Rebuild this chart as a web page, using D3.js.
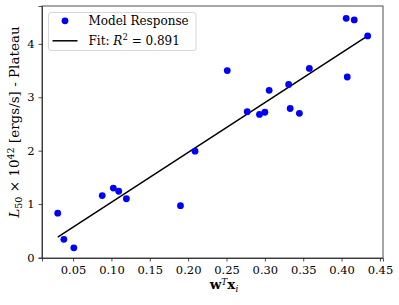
<!DOCTYPE html>
<html>
<head>
<meta charset="utf-8">
<script src="https://cdn.jsdelivr.net/npm/d3@7"></script>
<style>
  body { margin: 0; background: #fff; }
  .axis path, .axis line { stroke: #222; stroke-width: 0.8; }
</style>
</head>
<body>
<svg id="chart" width="399" height="305"></svg>
<script>
// model response points: w^T x_i vs L50 (x 10^42 erg/s)
var xVals = [0.030, 0.038, 0.051, 0.088, 0.1025, 0.1095, 0.1195, 0.190, 0.209,
             0.251, 0.277, 0.293, 0.300, 0.3056, 0.331, 0.333, 0.345, 0.358,
             0.406, 0.4165, 0.4074, 0.434];
var yVals = [0.83, 0.34, 0.18, 1.16, 1.30, 1.24, 1.10, 0.97, 1.99,
             3.50, 2.73, 2.68, 2.72, 3.13, 3.24, 2.79, 2.70, 3.54,
             4.48, 4.45, 3.38, 4.15];
// fitted line endpoints
var fitX = [0.030, 0.434];
var fitY = [0.38, 4.15];
var xTicks = [0.05, 0.10, 0.15, 0.20, 0.25, 0.30, 0.35, 0.40, 0.45];
var yTicks = [0, 1, 2, 3, 4];
var legendLabels = ["Model Response", "Fit: R\u00b2 = 0.891"];

var serif = "'DejaVu Serif', serif";

var svg = d3.select("#chart"),
    margin = {top: 6, right: 16, bottom: 47, left: 42},
    width = 399 - margin.left - margin.right,
    height = 305 - margin.top - margin.bottom,
    g = svg.append("g").attr("transform", "translate(" + margin.left + "," + margin.top + ")");

var x = d3.scaleLinear().domain([0.0095, 0.454]).range([0, width]),
    y = d3.scaleLinear().domain([-0.01, 4.71]).range([height, 0]);

g.append("g")
    .attr("class", "axis")
    .attr("transform", "translate(0," + height + ")")
    .call(d3.axisBottom(x).tickValues(xTicks).tickFormat(d3.format(".2f")).tickSizeOuter(0).tickSize(3.5).tickPadding(4));

g.append("g")
    .attr("class", "axis")
    .call(d3.axisLeft(y).tickValues(yTicks).tickFormat(d3.format("d")).tickSizeOuter(0).tickSize(3.5).tickPadding(4));

g.selectAll(".axis text")
    .style("font-family", serif)
    .style("font-size", "11.5px")
    .attr("fill", "#000");

// frame
g.append("rect")
    .attr("width", width).attr("height", height)
    .attr("fill", "none").attr("stroke", "#222").attr("stroke-width", 0.8);

var pts = xVals.map(function(v, i) { return {x: v, y: yVals[i]}; });

var line = d3.line()
    .x(function(d) { return x(d[0]); })
    .y(function(d) { return y(d[1]); });

g.append("path")
    .attr("d", line(fitX.map(function(v, i) { return [v, fitY[i]]; })))
    .attr("fill", "none").attr("stroke", "#000").attr("stroke-width", 1.5);

g.selectAll(".dot")
    .data(pts)
  .enter().append("circle")
    .attr("class", "dot")
    .attr("cx", function(d) { return x(d.x); })
    .attr("cy", function(d) { return y(d.y); })
    .attr("r", 3.4)
    .attr("fill", "#0000ff");

// legend
var lg = svg.append("g").attr("transform", "translate(48.5,12.5)");
lg.append("rect")
    .attr("width", 147.5).attr("height", 38)
    .attr("rx", 2.5)
    .attr("fill", "#fff").attr("fill-opacity", 0.8)
    .attr("stroke", "#ccc").attr("stroke-width", 0.8);
lg.append("circle").attr("cx", 16.5).attr("cy", 8.3).attr("r", 3.4).attr("fill", "#0000ff");
lg.append("line").attr("x1", 4).attr("x2", 29).attr("y1", 28.3).attr("y2", 28.3)
    .attr("stroke", "#000").attr("stroke-width", 1.5);
lg.append("text").attr("x", 40).attr("y", 12.8)
    .style("font-family", serif).style("font-size", "12px").text(legendLabels[0]);
var t2 = lg.append("text").attr("x", 40).attr("y", 32.3)
    .style("font-family", serif).style("font-size", "12px");
t2.append("tspan").text("Fit: ");
t2.append("tspan").attr("font-style", "italic").text("R");
t2.append("tspan").style("font-size", "8.5px").attr("dy", -4.8).text("2");
t2.append("tspan").attr("dy", 4.8).text(" = 0.891");

// x label
var xl = svg.append("text")
    .attr("x", 224).attr("y", 289)
    .attr("text-anchor", "middle")
    .style("font-family", serif).style("font-size", "13.5px");
xl.append("tspan").attr("font-weight", "bold").text("w");
xl.append("tspan").attr("font-style", "italic").style("font-size", "9px").attr("dy", -4.5).text("T");
xl.append("tspan").attr("font-weight", "bold").attr("dy", 4.5).text("x");
xl.append("tspan").attr("font-style", "italic").style("font-size", "9px").attr("dy", 2.5).text("i");

// y label
var yl = svg.append("text")
    .attr("transform", "translate(19,122) rotate(-90)")
    .attr("text-anchor", "middle")
    .style("font-family", serif).style("font-size", "13.5px");
yl.append("tspan").attr("font-style", "italic").text("L");
yl.append("tspan").style("font-size", "9.5px").attr("dy", 2.8).text("50");
yl.append("tspan").attr("dy", -2.8).text(" \u00d7 10");
yl.append("tspan").style("font-size", "9.5px").attr("dy", -5.5).text("42");
yl.append("tspan").attr("dy", 5.5).text(" [ergs/s] - Plateau");
</script>
</body>
</html>
